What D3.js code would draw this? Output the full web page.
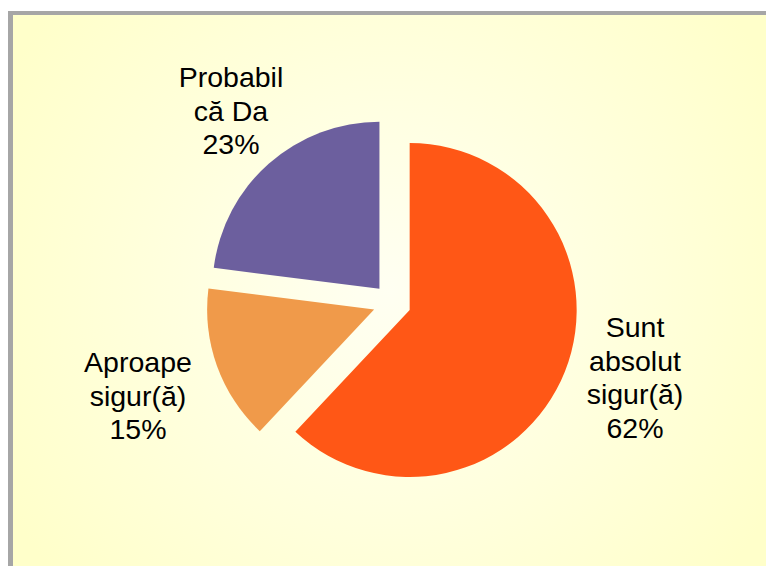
<!DOCTYPE html>
<html>
<head>
<meta charset="utf-8">
<script src="https://cdn.jsdelivr.net/npm/d3@7"></script>
<style>
  body { margin: 0; background: #fff; }
  svg { display: block; }
</style>
</head>
<body>
<script>
// data
const categories = ["Sunt absolut sigur(ă)", "Aproape sigur(ă)", "Probabil că Da"]
const values = [62, 15, 23]
const labelLines = [["Sunt", "absolut", "sigur(ă)", "62%"], ["Aproape", "sigur(ă)", "15%"], ["Probabil", "că Da", "23%"]]
const colors = ["#FF5716", "#F09A4A", "#6C5F9E"]

const width = 766, height = 566

const svg = d3.select("body").append("svg")
    .attr("width", width)
    .attr("height", height)

// background gradient, lighter toward the middle
const grad = svg.append("defs").append("radialGradient")
    .attr("id", "bg")
    .attr("gradientUnits", "userSpaceOnUse")
    .attr("cx", 390).attr("cy", 290).attr("r", 440)
grad.append("stop").attr("offset", "0%").attr("stop-color", "#FFFFF2")
grad.append("stop").attr("offset", "100%").attr("stop-color", "#FFFFCA")

svg.append("rect")
    .attr("x", 8).attr("y", 11)
    .attr("width", width - 8).attr("height", height - 11)
    .attr("fill", "#A6A6A6")
svg.append("rect")
    .attr("x", 13).attr("y", 15)
    .attr("width", width - 13).attr("height", height - 15)
    .attr("fill", "url(#bg)")

// pie
const cx = 392, cy = 303, radius = 167, explode = 19

const pie = d3.pie().sort(null).value(d => d)
const arcs = pie(values)
const arc = d3.arc().innerRadius(0).outerRadius(radius)

const g = svg.append("g").attr("transform", `translate(${cx},${cy})`)

g.selectAll("path")
  .data(arcs)
  .join("path")
    .attr("d", arc)
    .attr("fill", (d, i) => colors[i])
    .attr("transform", d => {
      const a = (d.startAngle + d.endAngle) / 2
      return `translate(${explode * Math.sin(a)},${-explode * Math.cos(a)})`
    })

// labels
const labelPos = [[635, 337], [138, 372], [231, 87]]
const lineH = 33.5

labelLines.forEach((lines, i) => {
  const t = svg.append("text")
      .attr("text-anchor", "middle")
      .attr("font-family", "Liberation Sans, Arial, sans-serif")
      .attr("font-size", 28.5)
      .attr("fill", "#000")
  lines.forEach((s, j) => {
    t.append("tspan")
      .attr("x", labelPos[i][0])
      .attr("y", labelPos[i][1] + j * lineH)
      .text(s)
  })
})
</script>
</body>
</html>
